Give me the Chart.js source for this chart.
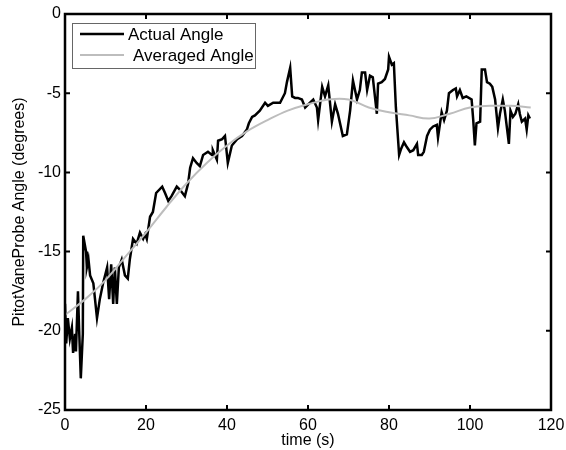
<!DOCTYPE html>
<html>
<head>
<meta charset="utf-8">
<script src="https://cdn.jsdelivr.net/npm/chart.js@4"></script>
<style>
  body { margin: 0; background: #fff; }
  #wrap { width: 566px; height: 450px; }
</style>
</head>
<body>
<div id="wrap"><canvas id="angle_chart"></canvas></div>
<script>
'use strict';

const time_s = [0.0, 0.3, 0.7, 1.2, 1.7, 2.0, 2.5, 2.7, 3.2, 3.5, 3.9, 4.4, 4.5, 5.2, 5.4, 5.8, 6.2, 7.0, 7.9, 8.6,
    9.4, 10.4, 10.9, 11.4, 11.9, 12.3, 12.8, 13.3, 14.0, 14.8, 15.5, 16.0, 16.8, 17.7, 18.5, 19.3, 19.8, 20.2, 21.0, 21.7,
    22.5, 24.0, 24.7, 25.5, 26.3, 27.6, 28.4, 29.6, 30.4, 30.9, 31.6, 32.5, 33.3, 34.1, 35.3, 36.3, 36.5, 37.5, 37.8, 38.8,
    39.5, 40.2, 41.2, 42.5, 43.7, 44.9, 45.4, 46.2, 46.9, 48.1, 49.4, 50.1, 51.4, 53.1, 54.3, 54.8, 55.6, 56.1, 56.8, 57.5,
    58.5, 59.3, 60.5, 61.3, 62.2, 62.5, 63.5, 64.2, 65.0, 65.9, 66.7, 67.4, 68.6, 69.6, 70.4, 71.1, 72.1, 72.8, 73.3, 74.1,
    74.6, 75.3, 76.0, 77.0, 77.3, 78.2, 79.0, 79.8, 80.0, 80.7, 81.2, 81.7, 82.5, 83.0, 83.7, 84.4, 85.2, 86.0, 86.9, 87.2,
    88.1, 88.6, 89.4, 90.1, 90.9, 91.8, 92.1, 93.0, 93.6, 94.3, 94.8, 95.8, 96.5, 96.8, 97.5, 98.2, 99.1, 100.4, 100.8, 101.2,
    101.6, 102.5, 102.9, 103.7, 104.2, 104.9, 105.5, 106.2, 106.9, 107.4, 108.1, 108.6, 109.6, 110.0, 110.6, 111.2, 111.9, 112.3, 112.8, 113.6,
    114.0, 114.4, 114.8];
const actual_angle = [-18.3, -20.8, -19.2, -20.5, -19.8, -21.4, -20.2, -21.3, -17.5, -20.0, -23.0, -20.2, -14.0, -15.0, -16.0, -15.5, -16.5, -17.0, -19.2, -18.0,
    -17.0, -16.0, -18.0, -15.8, -18.3, -16.0, -18.3, -16.0, -15.5, -16.5, -16.7, -15.5, -14.2, -14.5, -13.8, -14.2, -13.9, -14.2, -12.8, -12.5,
    -11.3, -10.9, -11.3, -11.8, -11.5, -10.9, -11.1, -11.5, -10.7, -9.7, -9.1, -9.4, -9.6, -8.9, -8.7, -8.9, -8.6, -9.2, -8.0, -7.9,
    -7.7, -9.4, -8.3, -7.9, -7.7, -7.3, -6.9, -6.5, -6.4, -6.1, -5.6, -5.8, -5.6, -5.6, -5.0, -4.3, -3.4, -5.2, -5.3, -5.3,
    -5.4, -5.9, -5.6, -5.4, -5.9, -6.7, -4.6, -5.2, -4.5, -6.8, -5.7, -6.3, -7.7, -7.6, -6.1, -4.2, -5.4, -4.8, -3.7, -3.7,
    -4.8, -3.9, -4.0, -6.3, -4.4, -4.3, -4.1, -3.5, -2.7, -3.2, -3.1, -5.9, -8.9, -8.5, -8.1, -8.4, -8.7, -8.6, -8.2, -8.9,
    -8.9, -8.7, -7.7, -7.3, -7.1, -7.0, -7.8, -6.2, -6.7, -6.1, -5.0, -4.8, -4.7, -5.2, -4.8, -5.3, -5.2, -5.4, -6.7, -8.3,
    -6.9, -6.8, -3.5, -3.5, -4.3, -4.4, -4.6, -5.4, -7.2, -6.3, -5.4, -6.1, -8.2, -6.1, -6.5, -6.3, -5.7, -6.3, -6.8, -6.6,
    -7.3, -6.4, -6.6];

const avg_time = [0, 5, 10, 15, 20, 25, 30, 35, 40, 45, 50, 55, 60, 65, 70, 75, 80, 85, 90, 95, 100, 105, 110, 115];
const avg_angle = [-19.0, -18.0, -16.8, -15.3, -13.8, -12.2, -10.7, -9.4, -8.3, -7.4, -6.7, -6.1, -5.7, -5.4, -5.4, -5.9,
    -6.2, -6.4, -6.6, -6.3, -5.9, -5.8, -5.8, -5.9];

const x_ticks = [0, 20, 40, 60, 80, 100, 120];
const y_ticks = [-25, -20, -15, -10, -5, 0];

const font_family = 'Arial, "Liberation Sans", Helvetica, sans-serif';

const to_points = (xs, ys) => xs.map((x, i) => ({ x: x, y: ys[i] }));

// box around the plot with matlab style inward ticks
const frame_plugin = {
    id: 'frame',
    afterDatasetsDraw(chart) {
        const ctx = chart.ctx;
        const area = chart.chartArea;
        const xs = chart.scales.x;
        const ys = chart.scales.y;
        const len = 5;
        ctx.save();
        ctx.strokeStyle = '#000';
        ctx.lineWidth = 2;
        ctx.beginPath();
        x_ticks.forEach(v => {
            const px = xs.getPixelForValue(v);
            ctx.moveTo(px, area.bottom); ctx.lineTo(px, area.bottom - len);
            ctx.moveTo(px, area.top); ctx.lineTo(px, area.top + len);
        });
        y_ticks.forEach(v => {
            const py = ys.getPixelForValue(v);
            ctx.moveTo(area.left, py); ctx.lineTo(area.left + len, py);
            ctx.moveTo(area.right, py); ctx.lineTo(area.right - len, py);
        });
        ctx.stroke();
        ctx.lineWidth = 2.5;
        ctx.strokeRect(area.left, area.top, area.right - area.left, area.bottom - area.top);
        ctx.restore();
    }
};

const legend_plugin = {
    id: 'boxLegend',
    afterDraw(chart) {
        const ctx = chart.ctx;
        const area = chart.chartArea;
        const bx = area.left + 7;
        const by = area.top + 9;
        ctx.save();
        ctx.fillStyle = '#fff';
        ctx.fillRect(bx, by, 183, 45);
        ctx.strokeStyle = '#666';
        ctx.lineWidth = 1;
        ctx.strokeRect(bx + 0.5, by + 0.5, 183, 45);
        ctx.font = '17px ' + font_family;
        ctx.textBaseline = 'middle';
        const offsets = [0, 5];
        chart.data.datasets.forEach((ds, i) => {
            const ly = by + 11 + i * 21;
            ctx.strokeStyle = ds.borderColor;
            ctx.lineWidth = ds.borderWidth;
            ctx.beginPath();
            ctx.moveTo(bx + 8, ly);
            ctx.lineTo(bx + 52, ly);
            ctx.stroke();
            ctx.fillStyle = '#000';
            ctx.fillText(ds.label, bx + 56 + offsets[i], ly + 1);
        });
        ctx.restore();
    }
};

new Chart(document.getElementById('angle_chart'), {
    type: 'line',
    data: {
        datasets: [{
            label: 'Actual Angle',
            data: to_points(time_s, actual_angle),
            borderColor: '#000',
            borderWidth: 2.5,
            pointRadius: 0,
            tension: 0,
            order: 1
        }, {
            label: 'Averaged Angle',
            data: to_points(avg_time, avg_angle),
            borderColor: '#bdbdbd',
            borderWidth: 2,
            pointRadius: 0,
            tension: 0.4,
            order: 0
        }]
    },
    options: {
        responsive: true,
        maintainAspectRatio: false,
        devicePixelRatio: 1,
        animation: false,
        layout: { padding: { left: 0, right: 15, top: 14, bottom: 0 } },
        plugins: {
            legend: { display: false },
            tooltip: { enabled: false }
        },
        scales: {
            x: {
                type: 'linear',
                min: 0,
                max: 120,
                afterBuildTicks: (scale) => { scale.ticks = x_ticks.map(v => ({ value: v })); },
                afterFit: (scale) => { scale.height = 40; scale.paddingLeft = 0; scale.paddingRight = 0; },
                grid: { display: false, drawTicks: false, tickLength: 0 },
                border: { display: false },
                ticks: { color: '#000', font: { family: font_family, size: 16 }, padding: 6, maxRotation: 0 },
                title: { display: true, text: 'time (s)', color: '#000', font: { family: font_family, size: 16 }, padding: { top: 0, bottom: 0 } }
            },
            y: {
                type: 'linear',
                min: -25,
                max: 0,
                afterBuildTicks: (scale) => { scale.ticks = y_ticks.map(v => ({ value: v })); },
                afterFit: (scale) => { scale.width = 65; scale.paddingTop = 0; scale.paddingBottom = 0; },
                grid: { display: false, drawTicks: false, tickLength: 0 },
                border: { display: false },
                ticks: { color: '#000', font: { family: font_family, size: 16 }, padding: 4 },
                title: { display: true, text: 'PitotVaneProbe Angle (degrees)', color: '#000', font: { family: font_family, size: 16 }, padding: { top: 10, bottom: 0 } }
            }
        }
    },
    plugins: [frame_plugin, legend_plugin]
});
</script>
</body>
</html>
